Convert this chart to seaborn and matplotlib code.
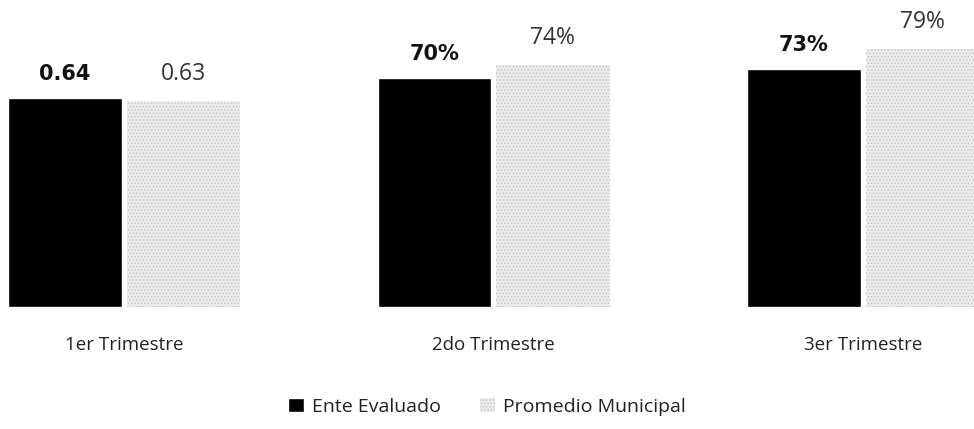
import matplotlib
matplotlib.use("Agg")
import matplotlib.pyplot as plt
import matplotlib.patches as mpatches
import pandas as pd
import seaborn as sns

categories = ['1er Trimestre', '2do Trimestre', '3er Trimestre']
ente = [0.64, 0.70, 0.73]
promedio = [0.63, 0.74, 0.79]
ente_labels = ['0.64', '70%', '73%']
promedio_labels = ['0.63', '74%', '79%']
series = ['Ente Evaluado', 'Promedio Municipal']

sns.set_theme(style="white")
plt.rcParams['font.family'] = ['Open Sans', 'DejaVu Sans']
plt.rcParams['hatch.linewidth'] = 0.6

df = pd.concat([
    pd.DataFrame({'trimestre': categories, 'valor': ente, 'serie': series[0]}),
    pd.DataFrame({'trimestre': categories, 'valor': promedio, 'serie': series[1]}),
])

fig = plt.figure(figsize=(9.74, 4.29), dpi=100)
ax = fig.add_axes([0, 1 - 307 / 429, 1, 307 / 429])

sns.barplot(data=df, x='trimestre', y='valor', hue='serie',
            palette=['#000000', '#ebebeb'], width=0.64, gap=0.04,
            legend=False, ax=ax)

# textured look for the municipal average bars
for bar in ax.containers[1]:
    bar.set_hatch('.....')
    bar.set_edgecolor('#c4c4c4')
    bar.set_linewidth(0)

ax.bar_label(ax.containers[0], labels=ente_labels, padding=10,
             fontsize=15, fontweight='bold', color='#111111',
             family=['DejaVu Sans'])
ax.bar_label(ax.containers[1], labels=promedio_labels, padding=11,
             fontsize=16.5, color='#333333')

ax.set_xlim(-0.336, 2.30)
ax.set_ylim(0, 0.94)
ax.set_xlabel('')
ax.set_ylabel('')
ax.set_yticks([])
ax.tick_params(axis='x', length=0, pad=21, labelsize=13.5, labelcolor='#222222')
sns.despine(ax=ax, left=True, bottom=True)

handles = [mpatches.Patch(facecolor='#000000', label=series[0]),
           mpatches.Patch(facecolor='#ebebeb', hatch='.....', edgecolor='#c4c4c4',
                          linewidth=0, label=series[1])]
fig.legend(handles=handles, loc='lower center', bbox_to_anchor=(0.5, -0.01),
           ncol=2, frameon=False, fontsize=14, handlelength=0.8,
           handleheight=0.8, handletextpad=0.4, columnspacing=2.0,
           labelcolor='#222222')

fig.savefig('out.png', dpi=100, facecolor='white')
